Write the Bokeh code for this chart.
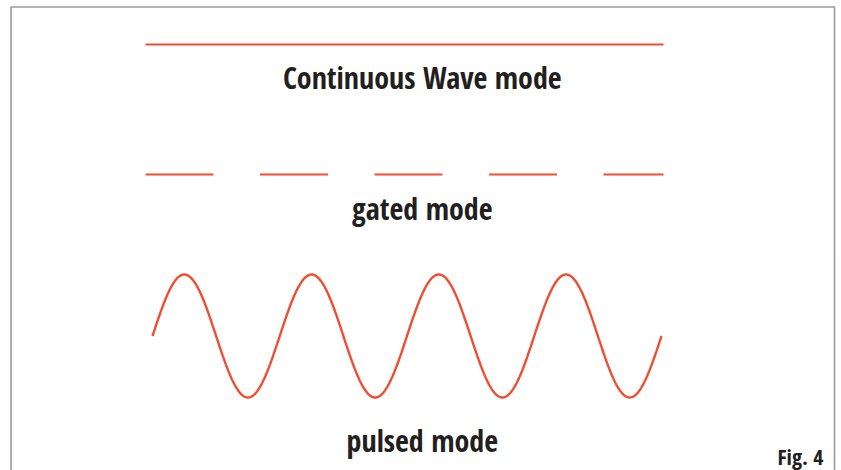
import numpy as np
from bokeh.plotting import figure
from bokeh.models import Range1d, ColumnDataSource
from bokeh.core.properties import value
from bokeh.embed import file_html
from bokeh.resources import INLINE

# ---- data (time axis in wave-cycle units, vertical axis in row units) ----
cw_x = [-0.055, 4.016]
cw_level = 44

gated_starts = [-0.055, 0.845, 1.745, 2.645, 3.544]
gated_ends = [0.479, 1.379, 2.279, 3.179, 4.016]
gated_level = 174

pulsed_cycles = 4
pulsed_center = 335.5
pulsed_amplitude = 61.5

labels = ["Continuous Wave mode", "gated mode", "pulsed mode"]
label_x = [2.12, 2.12, 2.12]
label_y = [77, 208, 440]

fig_label = "Fig. 4"

frame_x = [-1.112, -1.112, 5.3595, 5.3595]
frame_y = [480, 6.5, 6.5, 480]

RED = "#f04e32"
TEXT = "#231f20"
FONT = "Open Sans Condensed"

p = figure(width=841, height=470, output_backend="svg", toolbar_location=None,
           x_range=Range1d(-1.1945, 5.4145), y_range=Range1d(470, 0),
           min_border=0, outline_line_color=None, background_fill_color="white",
           border_fill_color="white")
p.axis.visible = False
p.grid.visible = False

p.line(frame_x, frame_y, line_color="#9a9a9a", line_width=1.6)
p.line(cw_x, [cw_level, cw_level], line_color=RED, line_width=2)
p.segment(x0=gated_starts, x1=gated_ends, y0=[gated_level] * len(gated_starts),
          y1=[gated_level] * len(gated_starts), line_color=RED, line_width=2)

t = np.linspace(0, pulsed_cycles, 600)
p.line(t, pulsed_center - pulsed_amplitude * np.sin(2 * np.pi * t),
       line_color=RED, line_width=2.4)

src = ColumnDataSource(dict(x=label_x, y=label_y, text=labels))
p.text(x="x", y="y", text="text", source=src, text_align="center",
       text_baseline="alphabetic", text_font=value(FONT), text_font_style="bold",
       text_font_size="30px", text_color=TEXT)

p.text(x=[5.273], y=[455], text=[fig_label], text_align="right",
       text_baseline="alphabetic", text_font=value(FONT), text_font_style="bold",
       text_font_size="22px", text_color=TEXT)

open("out.html", "w").write(file_html(p, INLINE))
